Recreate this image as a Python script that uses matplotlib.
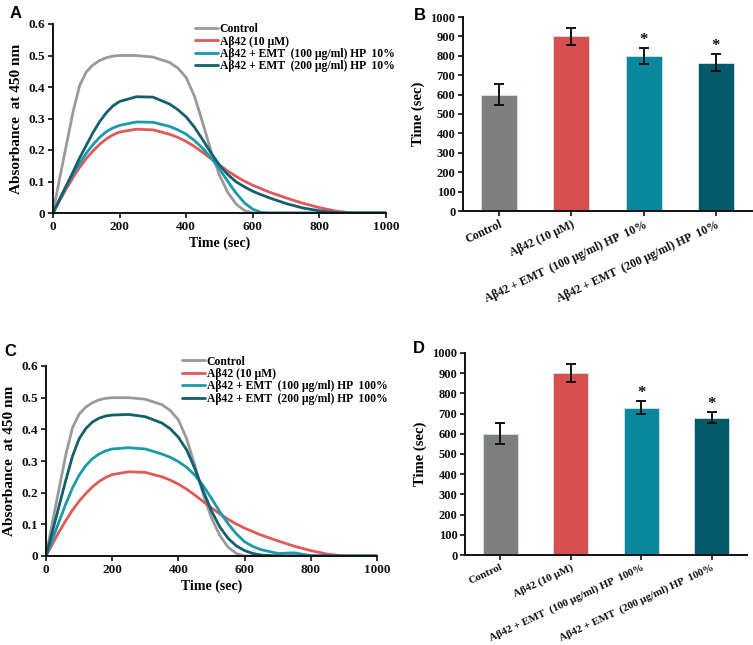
import matplotlib
matplotlib.use("Agg")
import matplotlib.pyplot as plt
import numpy as np

# ---------------- data ----------------
t = [0, 20, 40, 60, 80, 100, 120, 140, 160, 180, 200, 250, 300, 350, 375, 400, 425, 450, 475,
     500, 525, 550, 575, 600, 625, 650, 700, 750, 800, 850, 900, 1000]

control = [0, 0.11, 0.215, 0.32, 0.405, 0.448, 0.47, 0.484, 0.493, 0.498, 0.50, 0.50, 0.495, 0.478, 0.46,
           0.43, 0.37, 0.285, 0.195, 0.12, 0.065, 0.028, 0.008, 0, 0, 0, 0, 0, 0, 0, 0, 0]
abeta = [0, 0.039, 0.077, 0.112, 0.145, 0.173, 0.197, 0.218, 0.235, 0.248, 0.257, 0.266, 0.264, 0.25, 0.24,
         0.227, 0.211, 0.192, 0.172, 0.152, 0.133, 0.116, 0.101, 0.088, 0.077, 0.066, 0.048, 0.031, 0.017,
         0.006, 0, 0]

a_emt100 = [0, 0.043, 0.085, 0.123, 0.158, 0.19, 0.217, 0.24, 0.258, 0.27, 0.278, 0.289, 0.288, 0.275, 0.264,
            0.25, 0.23, 0.205, 0.175, 0.14, 0.10, 0.063, 0.032, 0.012, 0.002, 0, 0, 0, 0, 0, 0, 0]
a_emt200 = [0, 0.044, 0.087, 0.13, 0.175, 0.215, 0.255, 0.29, 0.318, 0.34, 0.354, 0.369, 0.368, 0.346, 0.328,
            0.305, 0.272, 0.232, 0.19, 0.152, 0.122, 0.099, 0.083, 0.069, 0.058, 0.048, 0.03, 0.016, 0.007,
            0.001, 0, 0]

c_emt100 = [0, 0.055, 0.11, 0.165, 0.215, 0.255, 0.285, 0.307, 0.322, 0.332, 0.338, 0.342, 0.338, 0.322, 0.312,
            0.298, 0.28, 0.255, 0.222, 0.182, 0.14, 0.102, 0.07, 0.045, 0.03, 0.02, 0.008, 0.01, 0.001,
            0, 0, 0]
c_emt200 = [0, 0.08, 0.16, 0.24, 0.315, 0.37, 0.402, 0.423, 0.435, 0.442, 0.445, 0.447, 0.44, 0.42, 0.402,
            0.375, 0.335, 0.275, 0.205, 0.142, 0.092, 0.056, 0.032, 0.017, 0.008, 0.003, 0, 0, 0, 0, 0, 0]

legend_a = ["Control", "Aβ42 (10 µM)", "Aβ42 + EMT  (100 µg/ml) HP  10%", "Aβ42 + EMT  (200 µg/ml) HP  10%"]
legend_c = ["Control", "Aβ42 (10 µM)", "Aβ42 + EMT  (100 µg/ml) HP  100%", "Aβ42 + EMT  (200 µg/ml) HP  100%"]

bar_cats_b = ["Control", "Aβ42 (10 µM)", "Aβ42 + EMT  (100 µg/ml) HP  10%", "Aβ42 + EMT  (200 µg/ml) HP  10%"]
bar_vals_b = [600, 900, 800, 765]
bar_err_b = [55, 45, 40, 42]
bar_sig_b = [False, False, True, True]

bar_cats_d = ["Control", "Aβ42 (10 µM)", "Aβ42 + EMT  (100 µg/ml) HP  100%", "Aβ42 + EMT  (200 µg/ml) HP  100%"]
bar_vals_d = [600, 900, 730, 680]
bar_err_d = [52, 45, 32, 28]
bar_sig_d = [False, False, True, True]

line_colors = ["#9a9a9a", "#e05a5a", "#1a9aaa", "#145f6e"]
bar_colors = ["#7f7f7f", "#d94f4f", "#0a879c", "#045a68"]

# ---------------- style ----------------
plt.rcParams['font.family'] = ['Liberation Serif', 'DejaVu Serif']
plt.rcParams['font.weight'] = 'bold'
plt.rcParams['axes.labelweight'] = 'bold'

W, H = 753, 645
fig = plt.figure(figsize=(W / 100, H / 100), dpi=100)


def px_axes(l, r, top, bottom):
    return fig.add_axes([l / W, 1 - bottom / H, (r - l) / W, (bottom - top) / H])


def style_axes(ax, size):
    for s in ['top', 'right']:
        ax.spines[s].set_visible(False)
    for s in ['left', 'bottom']:
        ax.spines[s].set_linewidth(1.4)
        ax.spines[s].set_color('#111111')
    ax.tick_params(direction='out', length=3.5, width=1.2, labelsize=size, colors='#111111', pad=2)
    for lab in ax.get_xticklabels() + ax.get_yticklabels():
        lab.set_fontweight('bold')


def line_panel(ax, series, labels, leg_anchor):
    for y, c, lab in zip(series, line_colors, labels):
        ax.plot(t, y, color=c, lw=2.0, label=lab, solid_capstyle='round', solid_joinstyle='round')
    ax.set_xlim(0, 1000)
    ax.set_ylim(0, 0.6)
    ax.set_xticks([0, 200, 400, 600, 800, 1000])
    ax.set_yticks([0, 0.1, 0.2, 0.3, 0.4, 0.5, 0.6])
    ax.set_yticklabels(['0', '0.1', '0.2', '0.3', '0.4', '0.5', '0.6'])
    ax.set_xlabel("Time (sec)", fontsize=10, fontweight='bold', labelpad=3)
    ax.set_ylabel("Absorbance  at 450 nm", fontsize=11, fontweight='bold', labelpad=4)
    style_axes(ax, 9.5)
    ax.legend(loc='upper left', bbox_to_anchor=leg_anchor, frameon=False,
              handlelength=2.0, handletextpad=0.15, labelspacing=0.04,
              borderpad=0, borderaxespad=0, prop={'weight': 'bold', 'size': 8.4})


def bar_panel(ax, cats, vals, errs, sig, label_size):
    x = np.arange(len(cats))
    ax.bar(x, vals, width=0.5, color=bar_colors, edgecolor='#cfe6ea', linewidth=0.6, zorder=2)
    ax.errorbar(x, vals, yerr=errs, fmt='none', ecolor='#111111', elinewidth=1.4,
                capsize=3.5, capthick=1.4, zorder=3)
    for xi, v, e, s in zip(x, vals, errs, sig):
        if s:
            ax.annotate("*", (xi, v + e), xytext=(0, 0), textcoords='offset points',
                        ha='center', va='bottom', fontsize=12, fontweight='bold', color='#111111')
    ax.set_xlim(-0.5, len(cats) - 0.5)
    ax.set_ylim(0, 1000)
    ax.set_yticks(range(0, 1001, 100))
    ax.set_xticks(x)
    ax.set_xticklabels(cats, rotation=25, ha='right', va='top', rotation_mode='anchor',
                       fontsize=label_size, fontweight='bold')
    ax.set_ylabel("Time (sec)", fontsize=10.5, fontweight='bold', labelpad=4)
    style_axes(ax, 9)
    for lab in ax.get_xticklabels():
        lab.set_fontsize(label_size)


axA = px_axes(53, 386, 24, 213)
line_panel(axA, [control, abeta, a_emt100, a_emt200], legend_a, (0.425, 1.005))

axB = px_axes(463, 752, 17, 211)
bar_panel(axB, bar_cats_b, bar_vals_b, bar_err_b, bar_sig_b, 8.5)

axC = px_axes(46, 377, 366, 556)
line_panel(axC, [control, abeta, c_emt100, c_emt200], legend_c, (0.41, 1.055))

axD = px_axes(465, 747, 353, 555)
bar_panel(axD, bar_cats_d, bar_vals_d, bar_err_d, bar_sig_d, 7.8)

# panel letters
for letter, xp, yp in [("A", 10, 6), ("B", 414, 8), ("C", 4, 344), ("D", 413, 341)]:
    fig.text(xp / W, 1 - yp / H, letter, fontsize=12, fontweight='bold',
             family=['Liberation Sans', 'DejaVu Sans'], va='top', ha='left')

fig.savefig("out.png", dpi=100)
